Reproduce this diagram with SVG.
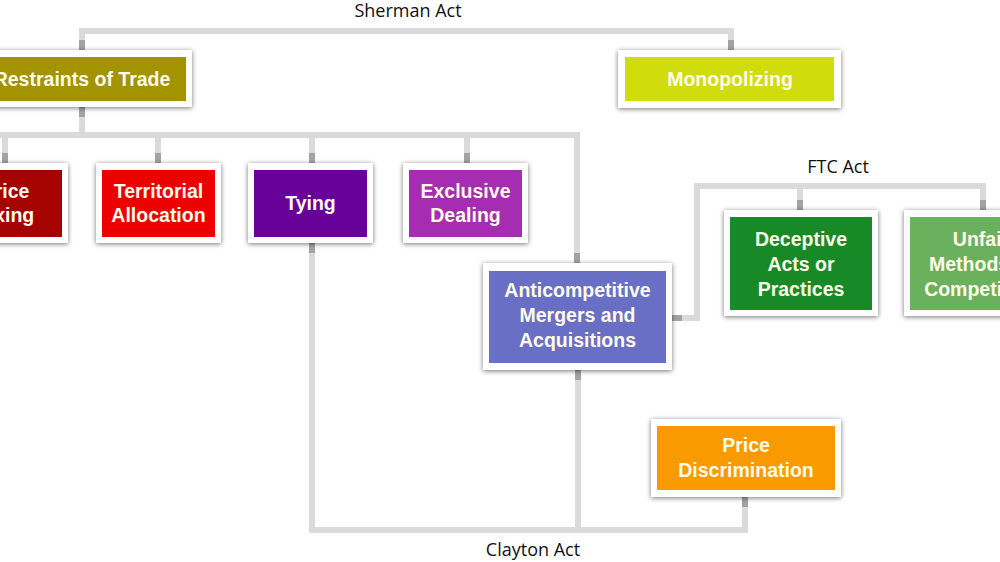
<svg xmlns="http://www.w3.org/2000/svg" width="1000" height="562" viewBox="0 0 1000 562">
<style>
.lbl{font-family:"Open Sans","Liberation Sans",sans-serif;font-size:18px;fill:#111;text-anchor:middle}
.t{font-family:"Liberation Sans",Arial,sans-serif;font-weight:bold;font-size:19.5px;fill:#fffbe8;text-anchor:middle}
.frame{fill:#ffffff;filter:url(#sh)}
.ln{fill:none;stroke:#dadada;stroke-width:6}
.stub{fill:none;stroke:#a3a3a3;stroke-width:6}
</style>
<defs>
<filter id="sh" x="-10%" y="-20%" width="120%" height="140%">
<feDropShadow dx="0" dy="1" stdDeviation="2.5" flood-color="#000" flood-opacity="0.55"/>
</filter>
</defs>
<rect width="1000" height="562" fill="#fff"/>
<g id="connectors">
<path class="ln" d="M82,50 V31 H731 V50"/>
<path class="ln" d="M82,107 V135"/>
<path class="ln" d="M-5,135 H577 V263"/>
<path class="ln" d="M5,135 V163 M158,135 V163 M312,135 V163 M467,135 V163"/>
<path class="ln" d="M312,243 V530 H745 V497"/>
<path class="ln" d="M578,370 V530"/>
<path class="ln" d="M672,318 H697 V186 H983 V210"/>
<path class="ln" d="M800,186 V210"/>
<path class="stub" d="M82,40 V50 M731,40 V50 M82,107 V117 M5,153 V163 M158,153 V163 M312,153 V163 M467,153 V163 M577,253 V263 M312,243 V253 M578,370 V380 M745,497 V507 M672,318 H682 M800,200 V210 M983,200 V210"/>
</g>
<g id="sherman-label"><text class="lbl" x="408" y="17">Sherman Act</text></g>
<g id="ftc-label"><text class="lbl" x="838" y="173">FTC Act</text></g>
<g id="clayton-label"><text class="lbl" x="533" y="556">Clayton Act</text></g>
<g id="restraints">
<rect class="frame" x="-28" y="50" width="220" height="57"/>
<rect x="-22" y="57" width="208" height="44" fill="#a39300"/>
<text class="t" x="82" y="86">Restraints of Trade</text>
</g>
<g id="monopolizing">
<rect class="frame" x="618" y="50" width="223" height="58"/>
<rect x="625" y="57" width="209" height="44" fill="#d0dc0c"/>
<text class="t" x="730" y="86">Monopolizing</text>
</g>
<g id="price-fixing">
<rect class="frame" x="-57" y="163" width="125" height="80"/>
<rect x="-51" y="170" width="113" height="67" fill="#a50202"/>
<text class="t" x="5.5" y="198">Price</text>
<text class="t" x="5.5" y="222">Fixing</text>
</g>
<g id="territorial">
<rect class="frame" x="96" y="163" width="125" height="80"/>
<rect x="102" y="170" width="113" height="67" fill="#ec0000"/>
<text class="t" x="158.5" y="198">Territorial</text>
<text class="t" x="158.5" y="222">Allocation</text>
</g>
<g id="tying">
<rect class="frame" x="248" y="163" width="125" height="80"/>
<rect x="254" y="170" width="113" height="67" fill="#68009a"/>
<text class="t" x="310.5" y="210">Tying</text>
</g>
<g id="exclusive">
<rect class="frame" x="403" y="163" width="125" height="80"/>
<rect x="409" y="170" width="113" height="67" fill="#a62cb2"/>
<text class="t" x="465.5" y="198">Exclusive</text>
<text class="t" x="465.5" y="222">Dealing</text>
</g>
<g id="mergers">
<rect class="frame" x="483" y="263" width="189" height="107"/>
<rect x="489" y="271" width="177" height="92" fill="#6a6fc6"/>
<text class="t" x="577.5" y="297">Anticompetitive</text>
<text class="t" x="577.5" y="322">Mergers and</text>
<text class="t" x="577.5" y="347">Acquisitions</text>
</g>
<g id="deceptive">
<rect class="frame" x="724" y="210" width="154" height="106"/>
<rect x="730" y="217" width="142" height="93" fill="#178a27"/>
<text class="t" x="801" y="246">Deceptive</text>
<text class="t" x="801" y="271">Acts or</text>
<text class="t" x="801" y="296">Practices</text>
</g>
<g id="unfair">
<rect class="frame" x="904" y="210" width="154" height="106"/>
<rect x="910" y="217" width="142" height="93" fill="#6bb05d"/>
<text class="t" x="981" y="246">Unfair</text>
<text class="t" x="981" y="271">Methods of</text>
<text class="t" x="981" y="296">Competition</text>
</g>
<g id="price-discrimination">
<rect class="frame" x="651" y="419" width="190" height="78"/>
<rect x="657" y="426" width="178" height="64" fill="#f99b00"/>
<text class="t" x="746" y="452">Price</text>
<text class="t" x="746" y="477">Discrimination</text>
</g>
</svg>
